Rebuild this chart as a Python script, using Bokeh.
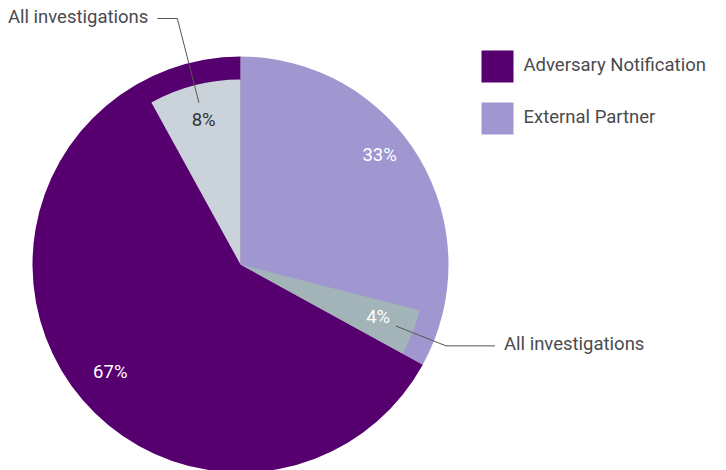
import math
from bokeh.plotting import figure
from bokeh.models import ColumnDataSource, Range1d
from bokeh.core.properties import value
from bokeh.embed import file_html
from bokeh.resources import INLINE

# ---- data ----
categories = ["External Partner", "Adversary Notification"]   # clockwise from 12 o'clock
shares = [33, 67]
sub_name = "All investigations"
sub_parents = ["Adversary Notification", "External Partner"]
sub_shares = [8, 4]
legend_order = ["Adversary Notification", "External Partner"]

# ---- style ----
colors = {"External Partner": "#a097d1", "Adversary Notification": "#560070"}
sub_colors = ["#cbd3da", "#a3b4b9"]
sub_label_colors = ["#333333", "#ffffff"]
FONT = "Roboto"
FS = "18.5px"
TEXT_DY = -1.5
W, H = 718, 470
CX, CY = 240, 206
R_OUT, R_IN = 208, 185
LABEL_R, SUB_LABEL_R = 176, 148
LEADER_START = 167
LEADER_ELBOW = [254, 221]
LEADER_HORIZ = [20, 49]

p = figure(width=W, height=H, output_backend="svg", toolbar_location=None,
           x_range=Range1d(0, W), y_range=Range1d(0, H),
           x_axis_type=None, y_axis_type=None, min_border=0)
p.outline_line_color = None
p.grid.visible = False
p.background_fill_color = "white"


def bang(t):
    """clockwise degrees from top -> bokeh radians"""
    return math.radians(90 - t)


def pt(t, r):
    a = bang(t)
    return CX + r * math.cos(a), CY + r * math.sin(a)


# main slices
total = sum(shares)
ends = {}
t = 0.0
starts, stops, cols = [], [], []
for c, s in zip(categories, shares):
    t0, t1 = t, t + s / total * 360
    ends[c] = (t0, t1)
    starts.append(bang(t0)); stops.append(bang(t1)); cols.append(colors[c])
    t = t1
p.wedge(x=CX, y=CY, radius=R_OUT, start_angle=starts, end_angle=stops,
        direction="clock", fill_color=cols, line_color=None)

# sub slices (aligned to end of parent)
sub_ranges = []
for par, s in zip(sub_parents, sub_shares):
    pe = ends[par][1]
    sub_ranges.append((pe - s / total * 360, pe))
p.wedge(x=CX, y=CY, radius=R_IN,
        start_angle=[bang(a) for a, b in sub_ranges],
        end_angle=[bang(b) for a, b in sub_ranges],
        direction="clock", fill_color=sub_colors, line_color=None)

# main labels
lx, ly, lt = [], [], []
for c, s in zip(categories, shares):
    t0, t1 = ends[c]
    own_end = t1
    for par, (a, b) in zip(sub_parents, sub_ranges):
        if par == c:
            own_end = a
    x, y = pt((t0 + own_end) / 2 + (0 if t0 == 0 else 5), LABEL_R - (0 if t0 == 0 else 6))
    lx.append(x); ly.append(y); lt.append(f"{s}%")
p.text(x=lx, y=ly, text=lt, text_color="white", text_font=value(FONT),
       text_font_size=FS, text_align="center", text_baseline="middle", y_offset=TEXT_DY)

# sub labels + leader lines
for i, ((a, b), s) in enumerate(zip(sub_ranges, sub_shares)):
    mid = (a + b) / 2
    x, y = pt(mid, SUB_LABEL_R)
    p.text(x=[x], y=[y], text=[f"{s}%"], text_color=sub_label_colors[i],
           text_font=value(FONT), text_font_size=FS,
           text_align="center", text_baseline="middle", y_offset=TEXT_DY)
    x0, y0 = pt(mid, LEADER_START)
    x1, y1 = pt(mid, LEADER_ELBOW[i])
    side = 1 if math.sin(math.radians(mid)) > 0 else -1
    x2 = x1 + side * LEADER_HORIZ[i]
    p.line(x=[x0, x1, x2], y=[y0, y1, y1], line_color="#555555", line_width=1)
    p.text(x=[x2 + side * 9], y=[y1], text=[sub_name], text_color="#4a4a4f",
           text_font=value(FONT), text_font_size=FS,
           text_align="left" if side > 0 else "right", text_baseline="middle",
           y_offset=TEXT_DY)

# legend
leg_x = [497] * len(legend_order)
leg_y = [404 - 52 * i for i in range(len(legend_order))]
p.rect(x=leg_x, y=leg_y, width=32, height=32,
       fill_color=[colors[c] for c in legend_order], line_color=None)
p.text(x=[x + 26 for x in leg_x], y=leg_y, text=legend_order, text_color="#4a4a4f",
       text_font=value(FONT), text_font_size=FS,
       text_align="left", text_baseline="middle", y_offset=TEXT_DY)

open("out.html", "w").write(file_html(p, INLINE))
